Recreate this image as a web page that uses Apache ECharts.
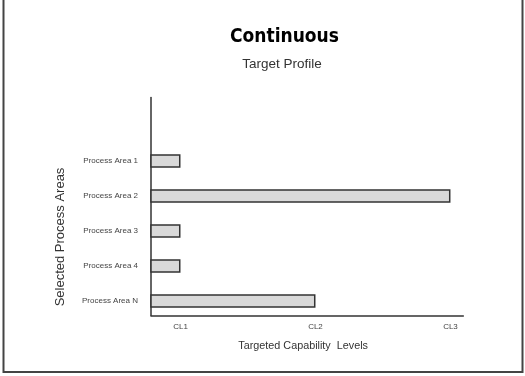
<!DOCTYPE html>
<html>
<head>
<meta charset="utf-8">
<script src="https://cdn.jsdelivr.net/npm/echarts@6/dist/echarts.min.js"></script>
<style>html,body{margin:0;padding:0;background:#fff}#c{width:525px;height:376px}</style>
</head>
<body>
<div id="c"></div>
<script>
var categories = ['Process Area 1', 'Process Area 2', 'Process Area 3', 'Process Area 4', 'Process Area N'];
var targetLevels = [1, 3, 1, 1, 2];
var tickValues = [1, 2, 3];
var tickLabels = ['CL1', 'CL2', 'CL3'];

var chart = echarts.init(document.getElementById('c'), null, {renderer: 'canvas'});
var font = 'Liberation Sans, Arial, sans-serif';
chart.setOption({
  animation: false,
  backgroundColor: '#fff',
  grid: [
    {left: 151, right: 61.7, top: 143.5, height: 175, containLabel: false},
    {left: 151, right: 61.7, top: 97.5, height: 218, containLabel: false}
  ],
  xAxis: [
    {
      type: 'value', gridIndex: 0, min: 0.7815, max: 3.095, offset: -3,
      axisLine: {show: true, lineStyle: {color: '#333', width: 1.5}},
      axisTick: {show: false},
      splitLine: {show: false},
      axisLabel: {
        customValues: tickValues, margin: 7, fontSize: 8, color: '#444', fontFamily: font,
        formatter: function (v) { return tickLabels[tickValues.indexOf(v)]; }
      },
      name: 'Targeted Capability  Levels', nameLocation: 'middle', nameGap: 25,
      nameTextStyle: {fontSize: 10.8, color: '#333', fontFamily: font, padding: [0, 8, 0, 0]}
    },
    {type: 'value', gridIndex: 1, show: false}
  ],
  yAxis: [
    {
      type: 'category', gridIndex: 0, data: categories, inverse: true,
      axisLine: {show: false}, axisTick: {show: false},
      axisLabel: {margin: 13, fontSize: 8, color: '#444', fontFamily: font}
    },
    {
      type: 'value', gridIndex: 1,
      axisLine: {show: true, lineStyle: {color: '#333', width: 1.5}},
      axisTick: {show: false}, axisLabel: {show: false}, splitLine: {show: false}
    }
  ],
  series: [{
    type: 'bar', xAxisIndex: 0, yAxisIndex: 0, data: targetLevels, barWidth: 13.5,
    itemStyle: {color: '#d9d9d9', borderColor: '#333', borderWidth: 1.5}
  }],
  graphic: [
    {type: 'rect', shape: {x: 3.5, y: -2, width: 519, height: 374}, style: {fill: null, stroke: '#444', lineWidth: 2}, silent: true},
    {type: 'text', x: 284.5, y: 37, style: {text: 'Continuous', fontFamily: 'DejaVu Sans Condensed, DejaVu Sans', fontWeight: 'bold', fontSize: 19, fill: '#000', textAlign: 'center', textVerticalAlign: 'middle'}},
    {type: 'text', x: 282, y: 64, style: {text: 'Target Profile', fontFamily: font, fontSize: 13.5, fill: '#333', textAlign: 'center', textVerticalAlign: 'middle'}},
    {type: 'text', x: 60, y: 237, rotation: Math.PI / 2, style: {text: 'Selected Process Areas', fontFamily: font, fontSize: 13, fill: '#333', textAlign: 'center', textVerticalAlign: 'middle'}}
  ]
});
</script>
</body>
</html>
